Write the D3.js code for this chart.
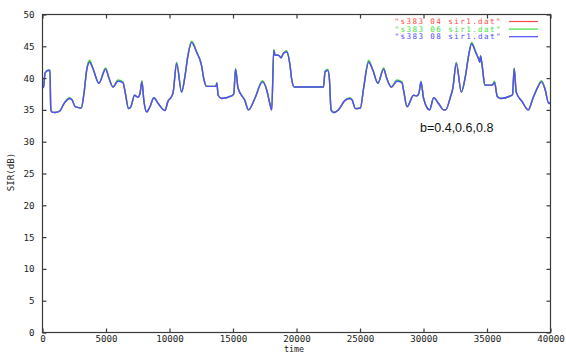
<!DOCTYPE html>
<html>
<head>
<meta charset="utf-8">
<script src="https://cdn.jsdelivr.net/npm/d3@7"></script>
<style>
  html, body { margin: 0; padding: 0; background: #fff; }
  svg { display: block; }
  .tick-label { font-family: "DejaVu Sans Mono", monospace; font-size: 9.2px; fill: #222; }
</style>
</head>
<body>
<svg id="chart" width="566" height="354"></svg>
<script>
// Sample times (time units) shared by all three series
const times = [
  0, 80, 200, 430, 590, 650, 710, 980, 1350, 1690, 2140, 2320, 2580, 3050, 3260, 3500,
  3710, 3970, 4440, 4970, 5230, 5550, 5940, 6330, 6490, 6780, 6960, 7250, 7510, 7670,
  7830, 7980, 8200, 8460, 8770, 9110, 9640, 9870, 10160, 10290, 10560, 10950, 11210,
  11450, 11740, 12130, 12520, 12700, 12920, 13650, 13730, 13830, 14100, 14880, 15060,
  15200, 15400, 15930, 16220, 16720, 17320, 17660, 17900, 18050, 18210, 18310, 18580,
  18780, 18970, 19230, 19490, 19630, 19840, 22120, 22250, 22460, 22590, 22720, 22910,
  23300, 23820, 24190, 24370, 24640, 25030, 25290, 25680, 26000, 26410, 26860, 27100,
  27470, 27910, 28300, 28440, 28700, 29220, 29480, 29660, 29800, 30010, 30480, 30800,
  31190, 31580, 31740, 32130, 32310, 32580, 32980, 33310, 33550, 33790, 34100, 34340,
  34440, 34490, 34630, 34830, 35410, 35590, 35810, 36070, 36850, 37010, 37140, 37300,
  37770, 38250, 38610, 38980, 39290, 39550, 39870, 40000
];

// SIR (dB) for b = 0.4
const sir04 = [
  38.8, 38.5, 40.8, 41.2, 41.2, 35.2, 34.7, 34.6, 34.8, 36.0, 36.8, 36.6, 35.5, 35.3, 37.5, 41.5,
  42.6, 41.5, 39.2, 41.5, 40.0, 38.6, 39.6, 39.3, 38.0, 35.2, 35.5, 37.3, 37.0, 37.5,
  39.5, 36.5, 34.7, 35.5, 36.9, 36.0, 34.9, 36.3, 37.1, 37.8, 42.4, 37.8, 40.2,
  43.5, 45.7, 44.1, 42.0, 39.9, 38.7, 38.7, 39.2, 37.3, 36.8, 37.2, 37.5,
  41.4, 38.4, 36.5, 35.0, 36.8, 39.5, 38.1, 36.0, 35.0, 44.4, 43.6, 43.6,
  43.2, 43.9, 44.2, 42.0, 39.7, 38.6, 38.6, 41.0, 41.3, 39.9, 35.0, 34.6,
  35.0, 36.5, 36.8, 36.6, 35.2, 35.3, 38.5, 42.6, 41.3, 39.2, 41.5, 40.0,
  38.6, 39.6, 39.3, 38.0, 35.5, 37.3, 37.2, 37.8, 39.4, 36.8, 35.0, 36.9,
  36.0, 35.0, 35.0, 37.1, 38.4, 42.4, 37.8, 40.4, 43.5, 45.5, 44.1, 43.0,
  42.5, 43.5, 41.8, 38.9, 38.9, 39.4, 37.1, 36.8, 37.2, 37.4, 41.5, 37.8,
  36.3, 35.0, 36.8, 38.5, 39.5, 38.4, 36.0, 36.2
];

// SIR (dB) for b = 0.6
const sir06 = [
  38.8, 38.5, 40.8, 41.3, 41.3, 35.2, 34.7, 34.6, 34.8, 36.0, 36.9, 36.6, 35.5, 35.3, 37.5, 41.6,
  42.8, 41.6, 39.2, 41.6, 40.0, 38.6, 39.7, 39.4, 38.0, 35.2, 35.5, 37.3, 37.0, 37.5,
  39.6, 36.5, 34.7, 35.5, 36.9, 36.0, 34.9, 36.3, 37.1, 37.8, 42.5, 37.8, 40.2,
  43.6, 45.8, 44.2, 42.0, 39.9, 38.7, 38.7, 39.3, 37.3, 36.8, 37.2, 37.5,
  41.5, 38.4, 36.5, 35.0, 36.8, 39.6, 38.1, 36.0, 35.0, 44.5, 43.6, 43.6,
  43.2, 43.9, 44.3, 42.0, 39.7, 38.6, 38.6, 41.1, 41.4, 39.9, 35.0, 34.6,
  35.0, 36.5, 36.9, 36.6, 35.2, 35.3, 38.5, 42.8, 41.4, 39.2, 41.6, 40.0,
  38.6, 39.7, 39.4, 38.0, 35.5, 37.3, 37.2, 37.8, 39.5, 36.8, 35.0, 36.9,
  36.0, 35.0, 35.0, 37.1, 38.4, 42.5, 37.8, 40.4, 43.6, 45.6, 44.2, 43.0,
  42.5, 43.5, 41.8, 38.9, 38.9, 39.5, 37.1, 36.8, 37.2, 37.4, 41.6, 37.8,
  36.3, 35.0, 36.8, 38.5, 39.6, 38.4, 36.0, 36.2
];

// SIR (dB) for b = 0.8
const sir08 = [
  38.8, 38.5, 40.8, 41.2, 41.2, 35.2, 34.7, 34.6, 34.8, 36.0, 36.8, 36.6, 35.5, 35.3, 37.5, 41.5,
  42.5, 41.5, 39.2, 41.4, 40.0, 38.6, 39.5, 39.3, 38.0, 35.2, 35.5, 37.3, 37.0, 37.5,
  39.4, 36.5, 34.7, 35.5, 36.9, 36.0, 34.9, 36.3, 37.1, 37.8, 42.3, 37.8, 40.2,
  43.5, 45.6, 44.1, 42.0, 39.9, 38.7, 38.7, 39.2, 37.3, 36.8, 37.2, 37.5,
  41.4, 38.4, 36.5, 35.0, 36.8, 39.4, 38.1, 36.0, 35.0, 44.4, 43.6, 43.6,
  43.2, 43.9, 44.1, 42.0, 39.7, 38.6, 38.6, 41.0, 41.2, 39.9, 35.0, 34.6,
  35.0, 36.5, 36.8, 36.6, 35.2, 35.3, 38.5, 42.5, 41.3, 39.2, 41.4, 40.0,
  38.6, 39.5, 39.3, 38.0, 35.5, 37.3, 37.2, 37.8, 39.4, 36.8, 35.0, 36.9,
  36.0, 35.0, 35.0, 37.1, 38.4, 42.3, 37.8, 40.4, 43.5, 45.4, 44.1, 43.0,
  42.5, 43.5, 41.8, 38.9, 38.9, 39.3, 37.1, 36.8, 37.2, 37.4, 41.5, 37.8,
  36.3, 35.0, 36.8, 38.5, 39.4, 38.4, 36.0, 36.2
];

const seriesNames = ['"s383 04 sir1.dat"', '"s383 06 sir1.dat"', '"s383 08 sir1.dat"'];
const seriesColors = ["#ff4a4a", "#3ee03e", "#4f4fff"];
const xTicks = [0, 5000, 10000, 15000, 20000, 25000, 30000, 35000, 40000];
const yTicks = [0, 5, 10, 15, 20, 25, 30, 35, 40, 45, 50];

const svg = d3.select("#chart");
const plotLeft = 42.5, plotRight = 550.5, plotTop = 14.5, plotBottom = 332.5;

const x = d3.scaleLinear().domain([0, 40000]).range([plotLeft, plotRight]);
const y = d3.scaleLinear().domain([0, 50]).range([plotBottom, plotTop]);

const frameColor = "#3a3a3a";
const tickLen = 4;

// Series lines (blue drawn last, on top)
const allSeries = [sir04, sir06, sir08];
const line = d3.line()
  .x(d => x(d[0]))
  .y(d => y(d[1]))
  .curve(d3.curveMonotoneX);

allSeries.forEach((vals, i) => {
  svg.append("path")
    .datum(times.map((t, k) => [t, vals[k]]))
    .attr("fill", "none")
    .attr("stroke", seriesColors[i])
    .attr("stroke-width", 1.4)
    .attr("stroke-linejoin", "round")
    .attr("d", line);
});

// Frame
svg.append("rect")
  .attr("x", plotLeft).attr("y", plotTop)
  .attr("width", plotRight - plotLeft).attr("height", plotBottom - plotTop)
  .attr("fill", "none")
  .attr("stroke", frameColor)
  .attr("stroke-width", 1.2);

// Bottom axis with mirrored ticks on top
const xAxis = d3.axisBottom(x).tickValues(xTicks).tickSize(-tickLen).tickPadding(3.5)
  .tickFormat(d3.format("d"));
const gx = svg.append("g").attr("transform", `translate(0,${plotBottom})`).call(xAxis);
gx.select(".domain").remove();
gx.selectAll(".tick line").attr("stroke", frameColor).attr("stroke-width", 1.2);
gx.selectAll(".tick text").attr("class", "tick-label").attr("dy", "0.6em");

const gxTop = svg.append("g").attr("transform", `translate(0,${plotTop})`)
  .call(d3.axisTop(x).tickValues(xTicks).tickSize(-tickLen).tickFormat(""));
gxTop.select(".domain").remove();
gxTop.selectAll(".tick line").attr("stroke", frameColor).attr("stroke-width", 1.2);

// Left axis with mirrored ticks on right
const yAxis = d3.axisLeft(y).tickValues(yTicks).tickSize(-tickLen).tickPadding(8);
const gy = svg.append("g").attr("transform", `translate(${plotLeft},0)`).call(yAxis);
gy.select(".domain").remove();
gy.selectAll(".tick line").attr("stroke", frameColor).attr("stroke-width", 1.2);
gy.selectAll(".tick text").attr("class", "tick-label");

const gyRight = svg.append("g").attr("transform", `translate(${plotRight},0)`)
  .call(d3.axisRight(y).tickValues(yTicks).tickSize(-tickLen).tickFormat(""));
gyRight.select(".domain").remove();
gyRight.selectAll(".tick line").attr("stroke", frameColor).attr("stroke-width", 1.2);

// Axis titles
svg.append("text")
  .attr("x", 294).attr("y", 352)
  .attr("text-anchor", "middle")
  .attr("font-family", "DejaVu Sans Mono, monospace")
  .attr("font-size", "8.4px")
  .attr("fill", "#222")
  .text("time");

svg.append("text")
  .attr("class", "tick-label")
  .attr("transform", "translate(11,172) rotate(-90)")
  .attr("text-anchor", "middle")
  .attr("dy", "0.35em")
  .text("SIR(dB)");

// Legend
const legend = svg.append("g");
seriesNames.forEach((name, i) => {
  const ly = 21.5 + i * 7.6;
  legend.append("text")
    .attr("x", 502).attr("y", ly)
    .attr("dy", "0.33em")
    .attr("text-anchor", "end")
    .attr("font-family", "DejaVu Sans Mono, monospace")
    .attr("font-size", "7.6px")
    .attr("letter-spacing", "1.4px")
    .attr("fill", seriesColors[i])
    .text(name);
  legend.append("line")
    .attr("x1", 509).attr("x2", 538)
    .attr("y1", ly).attr("y2", ly)
    .attr("stroke", seriesColors[i])
    .attr("stroke-width", 1.2);
});

// Annotation of the parameter values
svg.append("text")
  .attr("x", 420).attr("y", 132)
  .attr("font-family", "Liberation Sans, Arial, sans-serif")
  .attr("font-size", "12.5px")
  .attr("fill", "#111")
  .text("b=0.4,0.6,0.8");
</script>
</body>
</html>
